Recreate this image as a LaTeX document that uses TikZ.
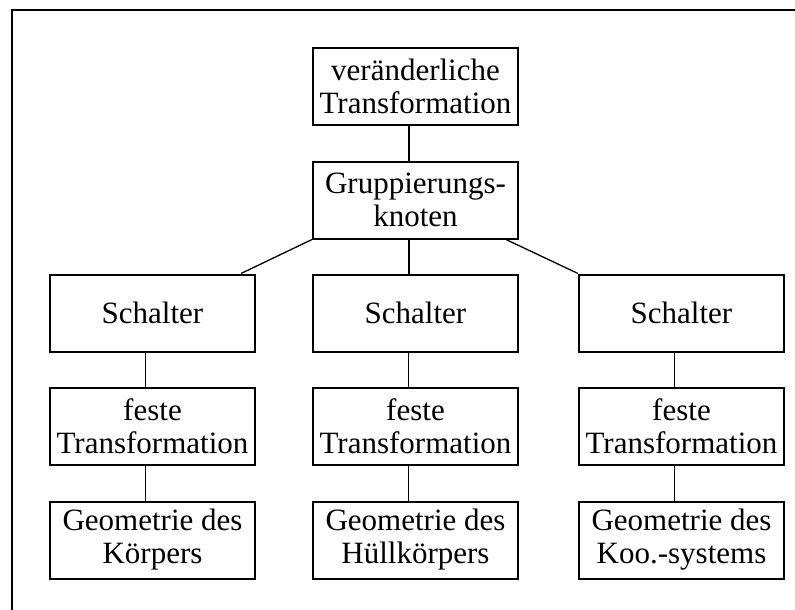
\documentclass[tikz,border=0pt]{standalone}
\usepackage{fontspec}
\setmainfont{Liberation Serif}
\begin{document}
\begin{tikzpicture}[x=1pt,y=1pt,
  box/.style={draw,line width=2pt,minimum width=205pt,minimum height=77pt,inner sep=0pt,align=center,font=\fontsize{31}{33}\selectfont},
  conn/.style={line width=1.3pt}]
\useasboundingbox (0,0) rectangle (795,-610);
\draw[line width=1.8pt] (12,-612) -- (12,-10) -- (797,-10);
\node[box] (top) at (415.5,-86.5) {veränderliche\\Transformation};
\node[box] (grp) at (415.5,-200) {Gruppierungs-\\knoten};
\node[box] (s1) at (152.5,-313) {Schalter};
\node[box] (s2) at (415.5,-313) {Schalter};
\node[box] (s3) at (681.5,-313) {Schalter};
\node[box] (f1) at (152.5,-426) {feste\\Transformation};
\node[box] (f2) at (415.5,-426) {feste\\Transformation};
\node[box] (f3) at (681.5,-426) {feste\\Transformation};
\node[box] (g1) at (152.5,-540) {Geometrie des\\Körpers};
\node[box] (g2) at (415.5,-540) {Geometrie des\\Hüllkörpers};
\node[box] (g3) at (681.5,-540) {Geometrie des\\Koo.-systems};
\draw[conn] ([xshift=-6.5pt]top.south) -- ([xshift=-6.5pt]grp.north);
\draw[conn] ([xshift=-6.5pt]grp.south) -- ([xshift=-6.5pt]s2.north);
\draw[conn] (grp.south west) -- ([xshift=-15pt]s1.north east);
\draw[conn] ([xshift=-13pt]grp.south east) -- (s3.north west);
\foreach \c in {1,2,3}{
  \draw[conn] ([xshift=-7pt]s\c.south) -- ([xshift=-7pt]f\c.north);
  \draw[conn] ([xshift=-7pt]f\c.south) -- ([xshift=-7pt]g\c.north);
}
\end{tikzpicture}
\end{document}
